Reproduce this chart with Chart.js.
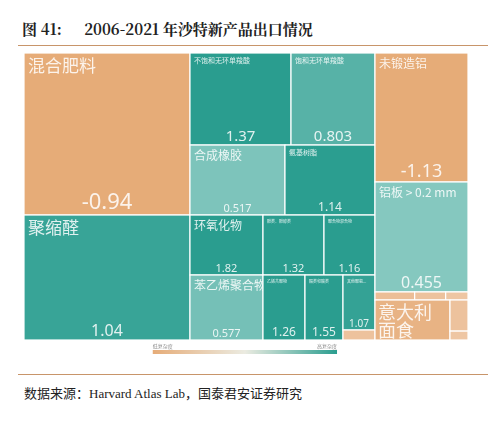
<!DOCTYPE html><html><head><meta charset="utf-8">
<script src="https://cdn.jsdelivr.net/npm/chart.js@4"></script>
<style>
body{margin:0;width:500px;height:425px;background:#fff;position:relative;font-family:"Noto Sans CJK SC";}
#t{position:absolute;left:22px;top:18px;font-family:"Noto Serif CJK SC","Liberation Serif","Noto Sans CJK SC";font-weight:bold;font-size:15px;color:#222;}
#l1{position:absolute;left:18px;top:45px;width:470px;border-top:1px solid #c8956a;}
#l2{position:absolute;left:18px;top:374px;width:470px;border-top:1px solid #c8956a;}
#s{position:absolute;left:24px;top:383px;font-size:13px;color:#222;font-family:"Liberation Serif","Noto Sans CJK SC";}
#w{position:absolute;left:24px;top:53px;width:444px;height:305px;}
</style></head><body>
<div id="t">图 41:&nbsp;&nbsp;&nbsp;&nbsp;&nbsp;&nbsp;2006-2021 年沙特新产品出口情况</div>
<div id="l1"></div><div id="l2"></div>
<div id="s">数据来源：Harvard Atlas Lab，国泰君安证券研究</div>
<div id="w"><canvas id="c"></canvas></div>
<script>
// leaves: name, complexity value, export size (area), group path: column / row
const names=["混合肥料","聚缩醛","不饱和无环单羧酸","饱和无环单羧酸","合成橡胶","氨基树脂","环氧化物","酚类、酚醇类","聚合物混合物","苯乙烯聚合物","乙烯共聚物","酯类和酸类","其他聚氨...","","未锻造铝","铝板 > 0.2 mm","","","","意大利面食","",""];
const values=[-0.94,1.04,1.37,0.803,0.517,1.14,1.82,1.32,1.16,0.577,1.26,1.55,1.07,-0.3,-1.13,0.455,-0.4,-0.3,-0.2,-0.7,-0.3,-0.2];
const sizes=[26900,20750,9300,7730,6650,6300,4380,3660,3060,4745,2730,2470,1760,320,12000,10230,320,250,180,3000,560,160];
const column=[0,0,1,1,1,1,1,1,1,1,1,1,1,1,2,2,2,2,2,2,2,2];
const row=[0,1,0,0,1,1,2,2,2,3,3,3,3,3,0,1,2,2,2,3,3,3];
const sub=[0,0,0,1,0,1,0,1,2,0,1,2,3,3,0,0,0,1,2,0,1,1];
const showVal=[1,1,1,1,1,1,1,1,1,1,1,1,1,0,1,1,0,0,0,0,0,0];
// label styling (font px for name / value)
const nameFont=[17,17,7,7,12,7,12,4,4,12,4,4,4,0,12,12,0,0,0,18,0,0];
const valFont=[22,16,15,15,11,12,11,11,11,11,12,12,10,0,18,16,0,0,0,0,0,0];

function lerp(a,b,t){return a.map((x,i)=>Math.round(x+(b[i]-x)*t));}
function color(v){
  if(v<0){const c=lerp([240,205,175],[230,172,120],Math.min(1,-v/0.9));return `rgb(${c})`;}
  const t=Math.max(0,Math.min(1,(v-0.4)/0.75));const c=lerp([140,203,195],[42,157,143],t);return `rgb(${c})`;
}
function layout(){
  const rects=[];const total=sizes.reduce((a,b)=>a+b,0);
  let x=0;
  for(let c=0;c<3;c++){
    const ci=sizes.map((s,i)=>i).filter(i=>column[i]===c);
    const cs=ci.reduce((a,i)=>a+sizes[i],0);const w=cs/total;let y=1;
    const rows=[...new Set(ci.map(i=>row[i]))];
    for(const r of rows){
      const ri=ci.filter(i=>row[i]===r);const rs=ri.reduce((a,i)=>a+sizes[i],0);const h=rs/cs;
      let xx=x;const subs=[...new Set(ri.map(i=>sub[i]))];
      for(const s of subs){
        const si=ri.filter(i=>sub[i]===s);const ss=si.reduce((a,i)=>a+sizes[i],0);const sw=w*ss/rs;
        let yy=y;
        for(const i of si){const hh=h*sizes[i]/ss;rects.push({i,x0:xx,x1:xx+sw,y0:yy-hh,y1:yy});yy-=hh;}
        xx+=sw;
      }
      y-=h;
    }
    x+=w;
  }
  return rects;
}
const rects=layout();
const tree={id:'tree',afterDatasetsDraw(ch){
  const g=ch.ctx,X=ch.scales.x,Y=ch.scales.y;
  for(const r of rects){
    const a=X.getPixelForValue(r.x0),b=X.getPixelForValue(r.x1),t=Y.getPixelForValue(r.y1),u=Y.getPixelForValue(r.y0);
    g.fillStyle=color(values[r.i]);g.fillRect(a,t,b-a,u-t);
    g.strokeStyle='#fff';g.lineWidth=1.2;g.strokeRect(a,t,b-a,u-t);
    const h=u-t;
    g.fillStyle='rgba(255,255,255,0.85)';g.textBaseline='top';g.textAlign='left';
    if(names[r.i]&&h>10){
      if(names[r.i]==="意大利面食"){g.font='18px "Noto Sans CJK SC"';g.fillText("意大利",a+3,t+3);g.fillText("面食",a+3,t+21);}
      else{g.font=`${nameFont[r.i]}px "Noto Sans CJK SC"`;g.fillText(names[r.i],a+4,t+4);}}
    if(showVal[r.i]){g.font=`${valFont[r.i]}px "Noto Sans"`;g.textAlign='center';g.textBaseline='bottom';g.fillText(String(values[r.i]),(a+b)/2,u-1);}
  }
  const lx=X.getPixelForValue(0.29),rx=X.getPixelForValue(0.705),ly=Y.getPixelForValue(0)+10;
  const gr=g.createLinearGradient(lx,0,rx,0);gr.addColorStop(0,'rgb(230,172,120)');gr.addColorStop(0.5,'rgb(235,235,225)');gr.addColorStop(1,'rgb(42,157,143)');
  g.fillStyle=gr;g.fillRect(lx,ly,rx-lx,4);
  g.fillStyle='#888';g.font='5px "Noto Sans CJK SC"';g.textBaseline='bottom';g.textAlign='left';g.fillText('低复杂度',lx,ly-1);g.textAlign='right';g.fillText('高复杂度',rx,ly-1);
}};
new Chart(document.getElementById('c'),{type:'scatter',data:{datasets:[{data:[]}]},
 options:{responsive:true,maintainAspectRatio:false,animation:false,layout:{padding:{bottom:18}},
  plugins:{legend:{display:false},tooltip:{enabled:false}},
  scales:{x:{type:'linear',min:0,max:1,display:false},y:{type:'linear',min:0,max:1,display:false}}},
 plugins:[tree]});
</script></body></html>
